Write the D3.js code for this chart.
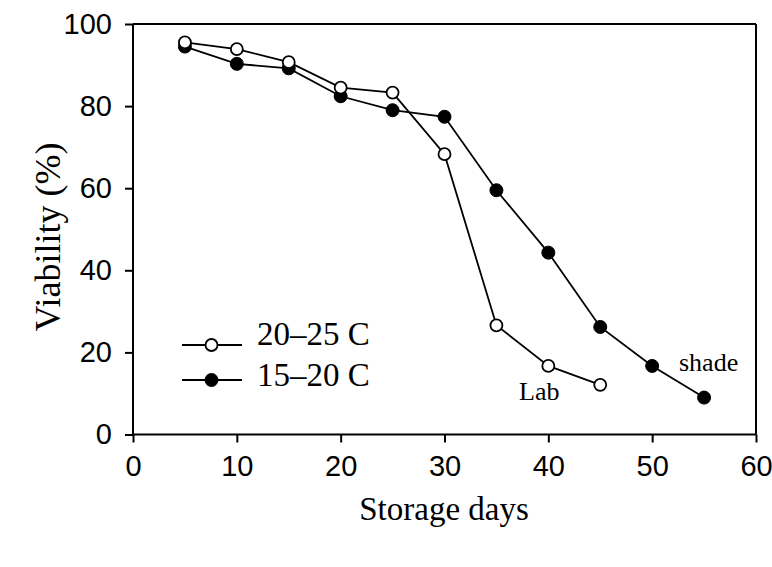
<!DOCTYPE html>
<html><head><meta charset="utf-8">
<script src="https://cdn.jsdelivr.net/npm/d3@7"></script>
<style>body{margin:0;background:#fff}</style>
</head><body>
<svg id="c" width="772" height="567"></svg>
<script>
const days = [5,10,15,20,25,30,35,40,45,50,55];
const labValues = [95.5,93.9,90.7,84.5,83.3,68.3,26.6,16.7,12.1];
const shadeValues = [94.5,90.3,89.2,82.4,79.0,77.4,59.5,44.3,26.2,16.7,9.0];
const seriesNames = ["20\u201325 C","15\u201320 C"];
const xTicks = [0,10,20,30,40,50,60];
const yTicks = [0,20,40,60,80,100];

const svg = d3.select("#c");
const L=133,R=756,T=24,B=434.5;
const x = d3.scaleLinear().domain([0,60]).range([L,R]);
const y = d3.scaleLinear().domain([0,100]).range([B,T]);
const sans = "'Liberation Sans', Arial, sans-serif";
const serif = "'Liberation Serif', 'Times New Roman', serif";

// frame
svg.append("line").attr("x1",L).attr("x2",R).attr("y1",T).attr("y2",T).attr("stroke","#000").attr("stroke-width",2);
svg.append("line").attr("x1",R).attr("x2",R).attr("y1",T).attr("y2",B).attr("stroke","#000").attr("stroke-width",2);

const xa = svg.append("g").attr("transform",`translate(0,${B})`)
  .call(d3.axisBottom(x).tickValues(xTicks).tickSize(8).tickPadding(6).tickFormat(d3.format("d")));
const ya = svg.append("g").attr("transform",`translate(${L},0)`)
  .call(d3.axisLeft(y).tickValues(yTicks).tickSize(8).tickPadding(13).tickFormat(d3.format("d")));
[xa,ya].forEach(a=>{
  a.select(".domain").attr("stroke-width",2).attr("d", a===xa ? `M${L},0H${R}` : `M0,${B}V${T}`);
  a.selectAll(".tick line").attr("stroke-width",2);
  a.selectAll("text").attr("font-family",sans).attr("font-size",29).attr("fill","#000");
});
xa.selectAll("text").attr("dy","0.95em");

const line = d3.line().x((d,i)=>x(days[i])).y(d=>y(d));
svg.append("path").datum(labValues).attr("d",line).attr("fill","none").attr("stroke","#000").attr("stroke-width",1.8);
svg.append("path").datum(shadeValues).attr("d",line).attr("fill","none").attr("stroke","#000").attr("stroke-width",1.8);

svg.selectAll(".s").data(shadeValues).enter().append("circle")
  .attr("cx",(d,i)=>x(days[i])).attr("cy",d=>y(d)).attr("r",6.5).attr("fill","#000").attr("stroke","#000").attr("stroke-width",1);
svg.selectAll(".o").data(labValues).enter().append("circle")
  .attr("cx",(d,i)=>x(days[i])).attr("cy",d=>y(d)).attr("r",6).attr("fill","#fff").attr("stroke","#000").attr("stroke-width",1.8);

// legend
const leg = [{y:345, fill:"#fff"},{y:380, fill:"#000"}];
leg.forEach((l,i)=>{
  svg.append("line").attr("x1",182).attr("x2",242).attr("y1",l.y).attr("y2",l.y).attr("stroke","#000").attr("stroke-width",1.8);
  svg.append("circle").attr("cx",211.5).attr("cy",l.y).attr("r",i?6.5:6).attr("fill",l.fill).attr("stroke","#000").attr("stroke-width",i?1:1.8);
  svg.append("text").attr("x",257).attr("y",l.y+(i?6:0)).attr("font-family",serif).attr("font-size",33).text(seriesNames[i]);
});

svg.append("text").attr("x",519).attr("y",400).attr("font-family",serif).attr("font-size",26).text("Lab");
svg.append("text").attr("x",679).attr("y",371).attr("font-family",serif).attr("font-size",26).text("shade");

svg.append("text").attr("x",444).attr("y",520).attr("text-anchor","middle").attr("font-family",serif).attr("font-size",33).text("Storage days");
svg.append("text").attr("transform","translate(60,237) rotate(-90)").attr("text-anchor","middle").attr("font-family",serif).attr("font-size",36).text("Viability (%)");
</script>
</body></html>
